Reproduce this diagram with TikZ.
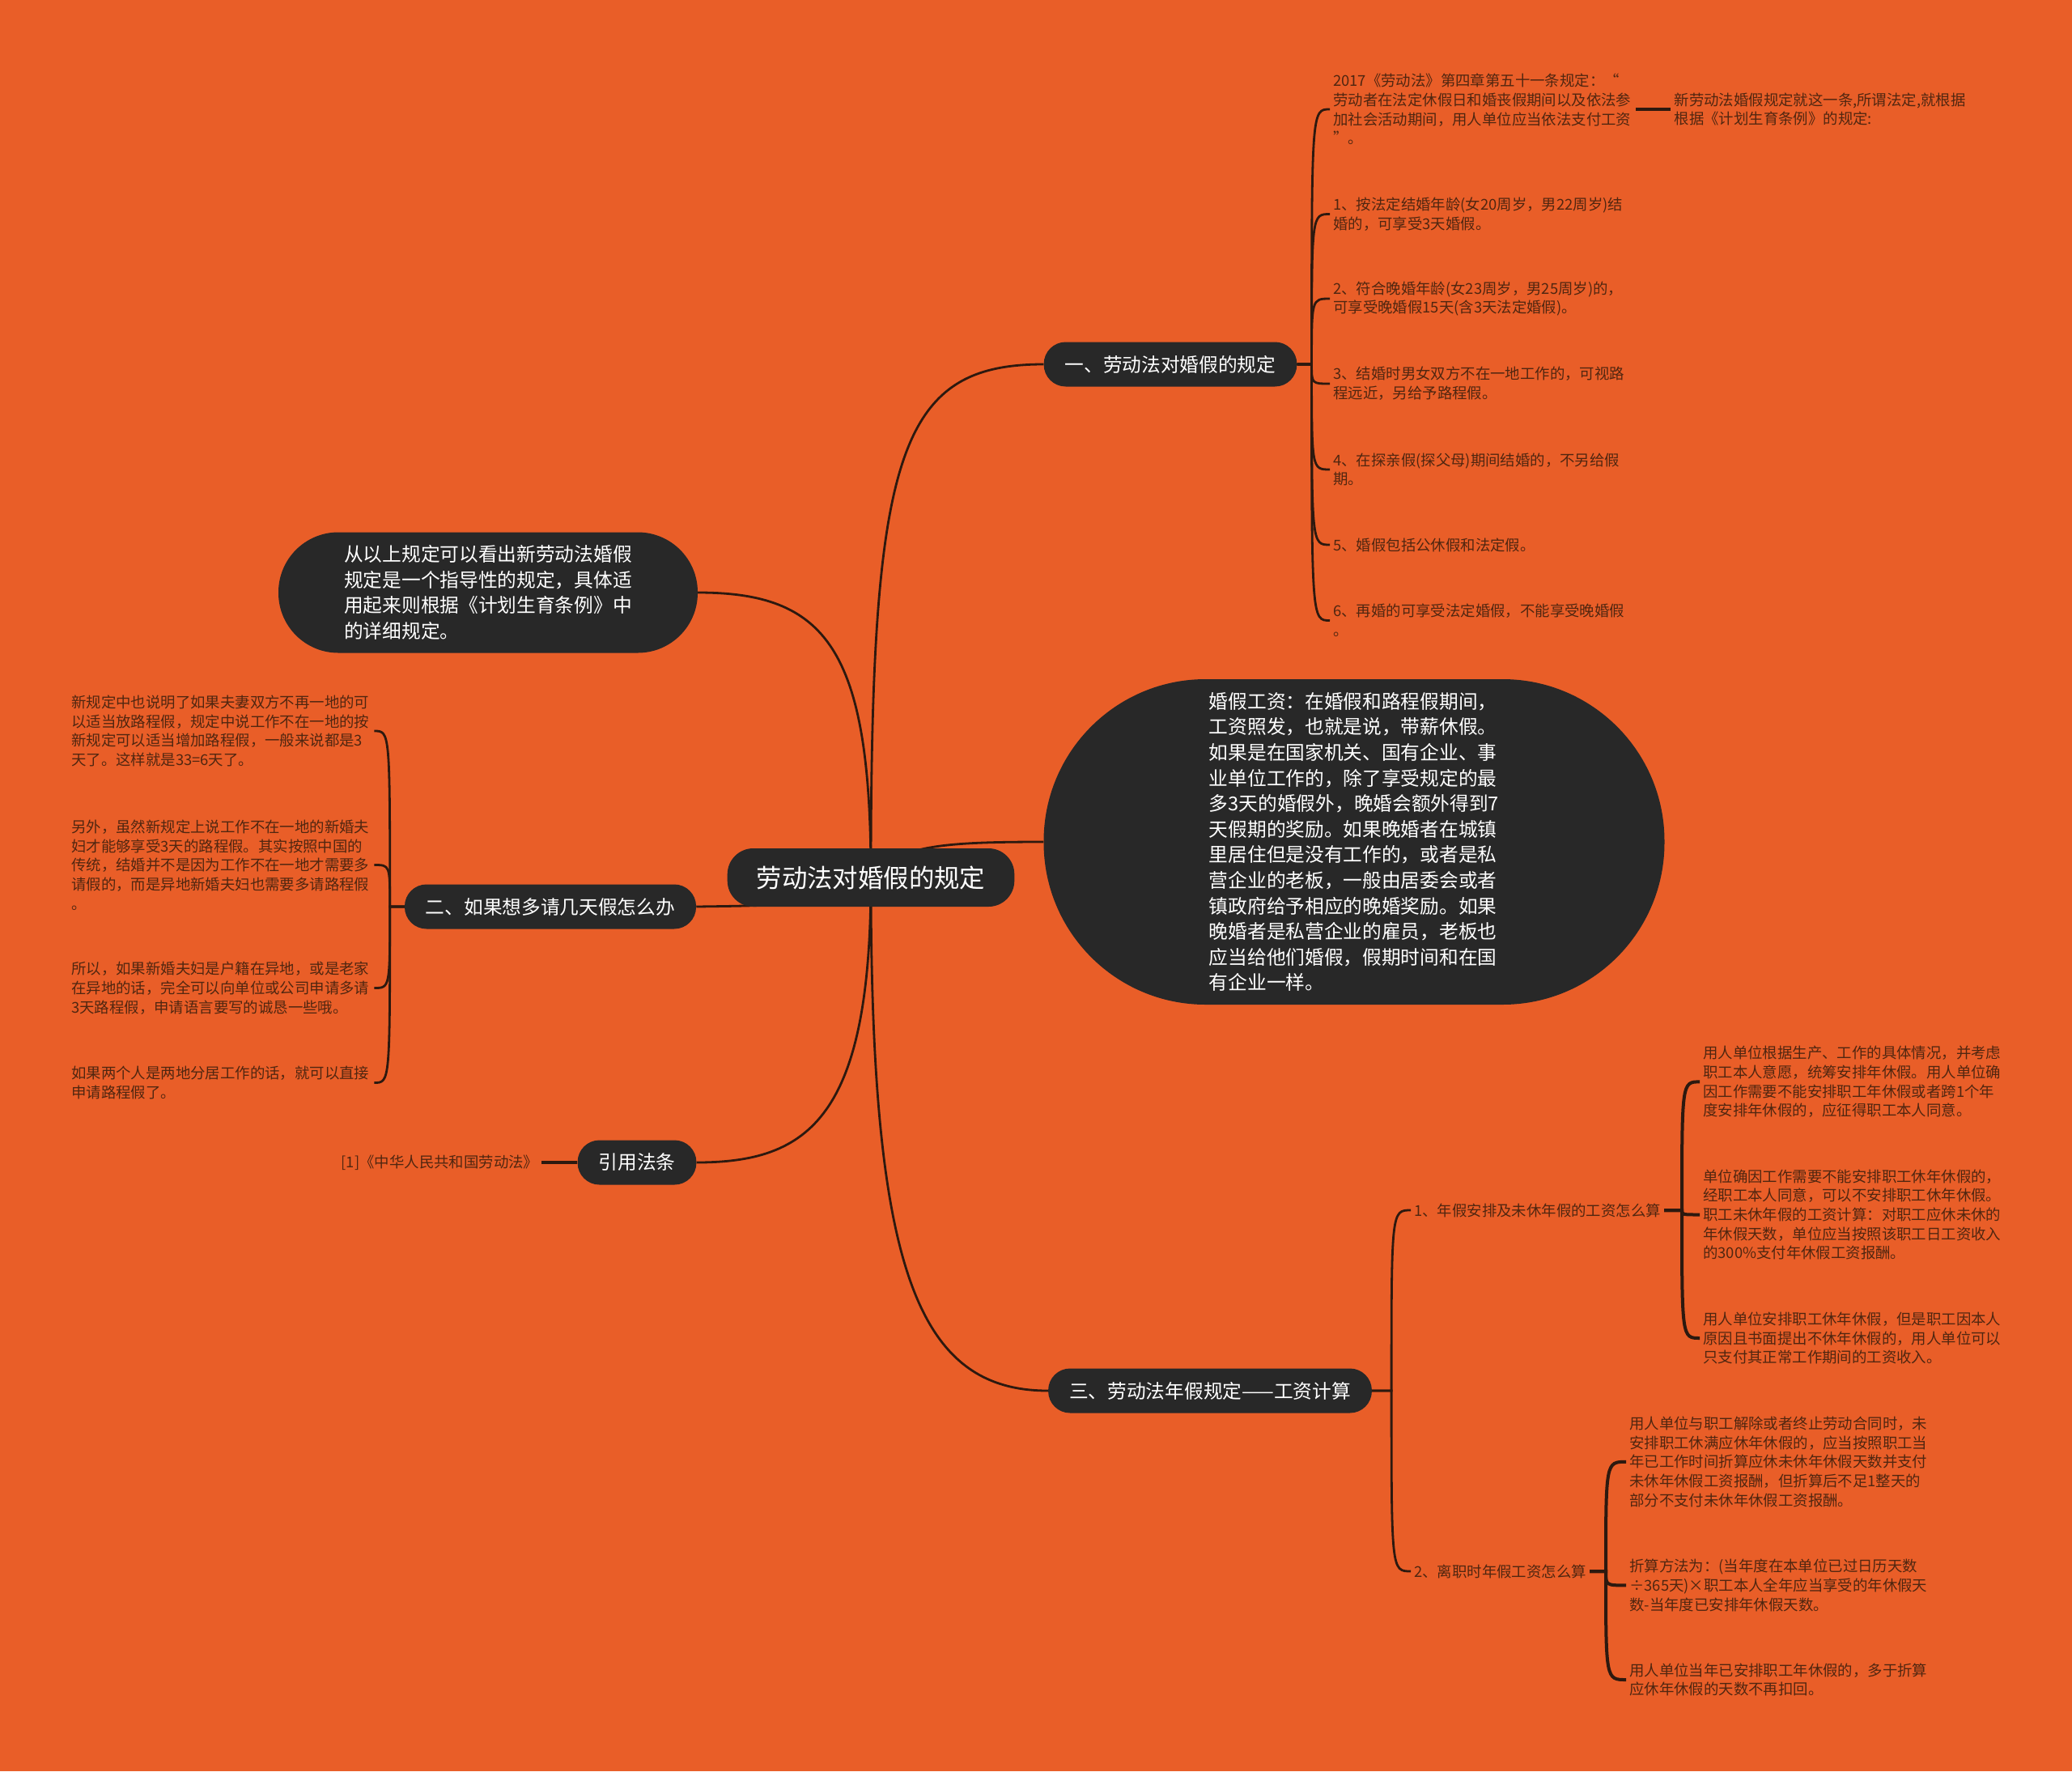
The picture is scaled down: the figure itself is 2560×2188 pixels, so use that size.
\documentclass[tikz,border=0pt]{standalone}
\usepackage{fontspec}
\setmainfont{Noto Sans CJK SC}
\usepackage{xcolor}
\usepackage{tikz}
\usetikzlibrary{positioning,backgrounds}
\definecolor{bgorange}{RGB}{233,94,40}
\definecolor{nodedark}{RGB}{40,40,40}
\definecolor{linedark}{RGB}{45,25,15}
\definecolor{leaftext}{RGB}{80,38,16}

\begin{document}
\begin{tikzpicture}[
    x=1pt, y=-1pt,
    topic/.style={rectangle, rounded corners=32pt, fill=nodedark, text=white,
                  minimum height=72pt, inner xsep=36pt,
                  font=\fontsize{31.4}{38}\selectfont},
    branch/.style={rectangle, rounded corners=27pt, fill=nodedark, text=white,
                   minimum height=55pt, inner xsep=26pt,
                   font=\fontsize{23.7}{31.6}\selectfont},
    bubble/.style={rectangle, rounded corners=#1, fill=nodedark, text=white,
                   align=left, font=\fontsize{23.7}{31.6}\selectfont},
    leaf/.style={anchor=west, align=left, text width=370pt, inner xsep=4pt,
                 inner ysep=2pt, text=leaftext, font=\fontsize{18.4}{23.7}\selectfont},
    midleaf/.style={anchor=west, inner xsep=4pt, inner ysep=2pt, text=leaftext,
                    font=\fontsize{18.4}{23.7}\selectfont},
    link/.style={draw=linedark, line width=2.8pt},
    stub/.style={link, line width=4pt},
    node distance=43pt
]
\begin{scope}[on background layer]
\fill[bgorange] (0,0) rectangle (2560,2188);
\end{scope}

% centre and main branches
\node[topic] (root) at (1076,1084) {劳动法对婚假的规定};
\node[branch] (b1) at (1446,450) {一、劳动法对婚假的规定};
\node[bubble=74pt, minimum width=518pt, minimum height=149pt] (bub) at (603,732)
  {从以上规定可以看出新劳动法婚假\\规定是一个指导性的规定，具体适\\用起来则根据《计划生育条例》中\\的详细规定。};
\node[bubble=200pt, minimum width=767pt, minimum height=402pt] (ell) at (1673,1040)
  {婚假工资：在婚假和路程假期间，\\工资照发，也就是说，带薪休假。\\如果是在国家机关、国有企业、事\\业单位工作的，除了享受规定的最\\多3天的婚假外，晚婚会额外得到7\\天假期的奖励。如果晚婚者在城镇\\里居住但是没有工作的，或者是私\\营企业的老板，一般由居委会或者\\镇政府给予相应的晚婚奖励。如果\\晚婚者是私营企业的雇员，老板也\\应当给他们婚假，假期时间和在国\\有企业一样。};
\node[branch] (er) at (680,1120) {二、如果想多请几天假怎么办};
\node[branch] (cite) at (787,1436) {引用法条};
\node[branch] (b3) at (1495,1718) {三、劳动法年假规定——工资计算};

% branch one
\node[leaf] (a0) at (1643,135) {2017《劳动法》第四章第五十一条规定：“\\劳动者在法定休假日和婚丧假期间以及依法参\\加社会活动期间，用人单位应当依法支付工资\\”。};
\node[leaf, right=of a0] (a0x) {新劳动法婚假规定就这一条,所谓法定,就根据\\根据《计划生育条例》的规定:};
\node[leaf] (a1) at (1643,264.5) {1、按法定结婚年龄(女20周岁，男22周岁)结\\婚的，可享受3天婚假。};
\node[leaf] (a2) at (1643,369) {2、符合晚婚年龄(女23周岁，男25周岁)的，\\可享受晚婚假15天(含3天法定婚假)。};
\node[leaf] (a3) at (1643,474) {3、结婚时男女双方不在一地工作的，可视路\\程远近，另给予路程假。};
\node[leaf] (a4) at (1643,580) {4、在探亲假(探父母)期间结婚的，不另给假\\期。};
\node[leaf] (a5) at (1643,673) {5、婚假包括公休假和法定假。};
\node[leaf] (a6) at (1643,766.5) {6、再婚的可享受法定婚假，不能享受晚婚假\\。};

% branch two
\node[leaf] (r1) at (84,903) {新规定中也说明了如果夫妻双方不再一地的可\\以适当放路程假，规定中说工作不在一地的按\\新规定可以适当增加路程假，一般来说都是3\\天了。这样就是33=6天了。};
\node[leaf] (r2) at (84,1068.5) {另外，虽然新规定上说工作不在一地的新婚夫\\妇才能够享受3天的路程假。其实按照中国的\\传统，结婚并不是因为工作不在一地才需要多\\请假的，而是异地新婚夫妇也需要多请路程假\\。};
\node[leaf] (r3) at (84,1220.5) {所以，如果新婚夫妇是户籍在异地，或是老家\\在异地的话，完全可以向单位或公司申请多请\\3天路程假，申请语言要写的诚恳一些哦。};
\node[leaf] (r4) at (84,1337.5) {如果两个人是两地分居工作的话，就可以直接\\申请路程假了。};

\node[midleaf, anchor=east, left=44pt of cite] (law) {[1]《中华人民共和国劳动法》};

% branch three
\node[midleaf] (s1) at (1743,1495) {1、年假安排及未休年假的工资怎么算};
\node[midleaf] (s2) at (1743,1941) {2、离职时年假工资怎么算};
\node[leaf] (t1) at (2100,1336.4) {用人单位根据生产、工作的具体情况，并考虑\\职工本人意愿，统筹安排年休假。用人单位确\\因工作需要不能安排职工年休假或者跨1个年\\度安排年休假的，应征得职工本人同意。};
\node[leaf] (t2) at (2100,1500.5) {单位确因工作需要不能安排职工休年休假的，\\经职工本人同意，可以不安排职工休年休假。\\职工未休年假的工资计算：对职工应休未休的\\年休假天数，单位应当按照该职工日工资收入\\的300\%支付年休假工资报酬。};
\node[leaf] (t3) at (2100,1653) {用人单位安排职工休年休假，但是职工因本人\\原因且书面提出不休年休假的，用人单位可以\\只支付其正常工作期间的工资收入。};
\node[leaf] (u1) at (2009,1805.8) {用人单位与职工解除或者终止劳动合同时，未\\安排职工休满应休年休假的，应当按照职工当\\年已工作时间折算应休未休年休假天数并支付\\未休年休假工资报酬，但折算后不足1整天的\\部分不支付未休年休假工资报酬。};
\node[leaf] (u2) at (2009,1958.4) {折算方法为：(当年度在本单位已过日历天数\\÷365天)×职工本人全年应当享受的年休假天\\数-当年度已安排年休假天数。};
\node[leaf] (u3) at (2009,2075) {用人单位当年已安排职工年休假的，多于折算\\应休年休假的天数不再扣回。};

\coordinate (h1) at ([xshift=18pt]b1.east);
\coordinate (h2) at ([xshift=-18pt]er.west);
\coordinate (h3) at ([xshift=24pt]b3.east);
\coordinate (h4) at ([xshift=22pt]s1.east);
\coordinate (h5) at ([xshift=20pt]s2.east);

\begin{scope}[on background layer]
\draw[link] (root.center) .. controls (1076,560) and (1110,450) .. (b1.west);
\draw[link] (root.center) .. controls (1076,800) and (1020,732) .. (bub.east);
\draw[link] (root.center) .. controls (1110,1045) and (1160,1040) .. (ell.west);
\draw[link] (root.center) .. controls (1000,1118) .. (er.east);
\draw[link] (root.center) .. controls (1076,1380) and (1000,1436) .. (cite.east);
\draw[link] (root.center) .. controls (1076,1560) and (1130,1718) .. (b3.west);

\foreach \n in {a0,a1,a2,a3,a4,a5,a6}
  \draw[link] (b1.east) -- (h1) .. controls (h1 |- \n.west) .. (\n.west);
\draw[stub] (a0.east) -- (a0x.west);

\foreach \n in {r1,r2,r3,r4}
  \draw[link] (er.west) -- (h2) .. controls (h2 |- \n.east) .. (\n.east);
\draw[stub] (cite.west) -- (law.east);

\foreach \n in {s1,s2}
  \draw[link] (b3.east) -- (h3) .. controls (h3 |- \n.west) .. (\n.west);
\foreach \n in {t1,t2,t3}
  \draw[stub] (s1.east) -- (h4) .. controls (h4 |- \n.west) .. (\n.west);
\foreach \n in {u1,u2,u3}
  \draw[stub] (s2.east) -- (h5) .. controls (h5 |- \n.west) .. (\n.west);
\end{scope}
\end{tikzpicture}
\end{document}
